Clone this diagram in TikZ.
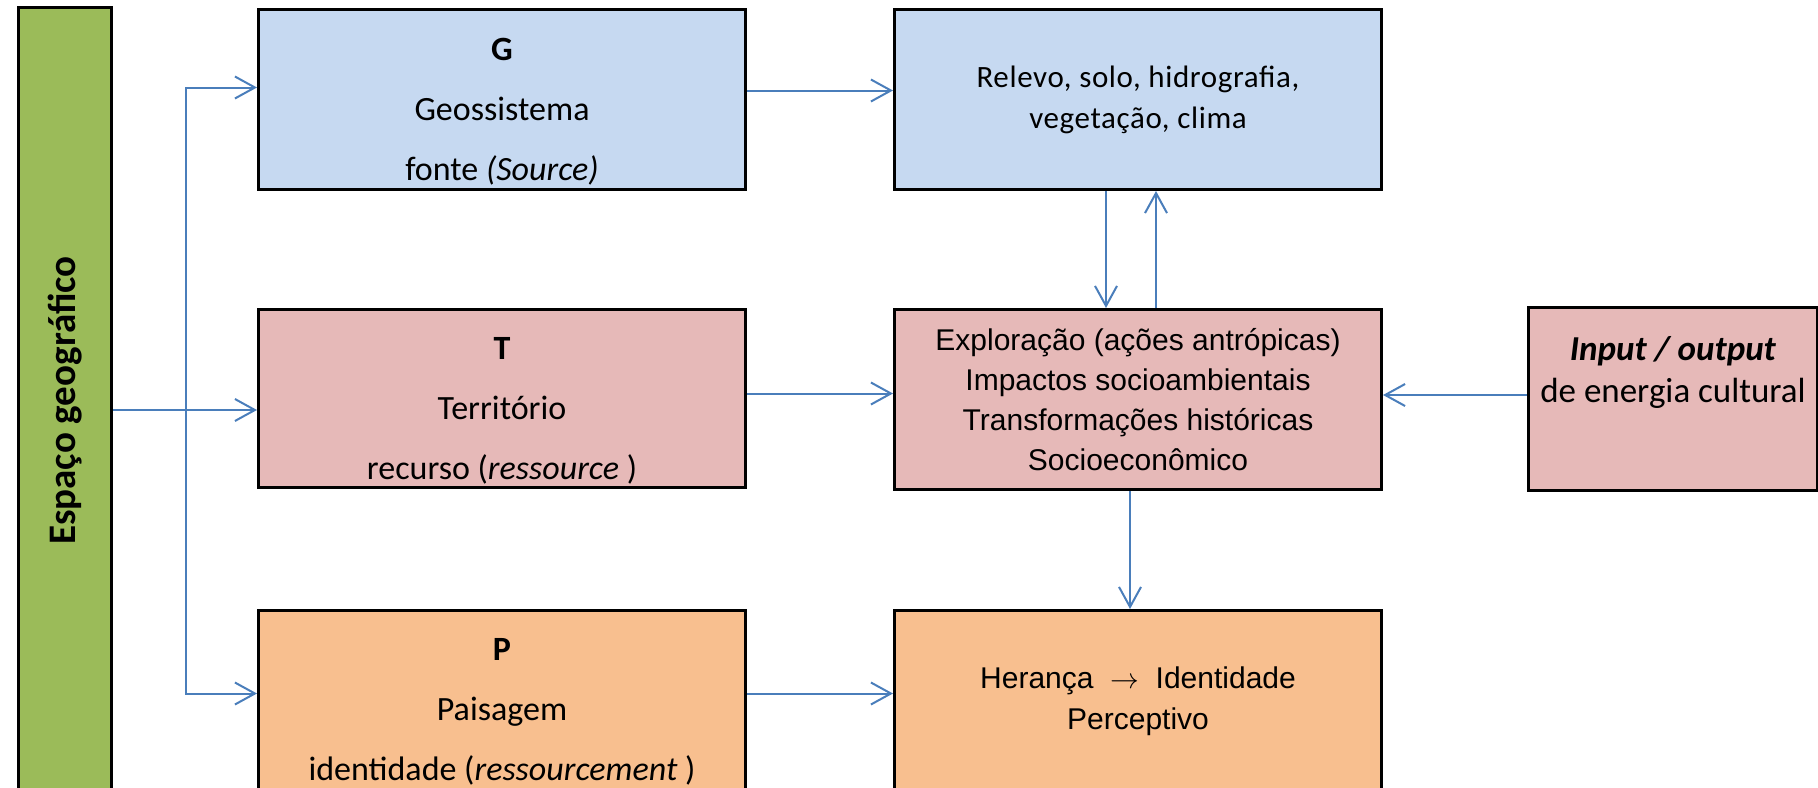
\documentclass[tikz,border=0pt]{standalone}
\usepackage{graphicx}
\usepackage{fontspec}
\setmainfont{Carlito}
\newfontfamily\arialfont{Liberation Sans}
\usetikzlibrary{calc,arrows.meta}
\definecolor{boxblue}{HTML}{C6D9F1}
\definecolor{boxred}{HTML}{E6B9B8}
\definecolor{boxorange}{HTML}{F8BF8F}
\definecolor{boxgreen}{HTML}{9BBB59}
\definecolor{flowcolor}{HTML}{4A7EBB}
\newcommand{\topgap}{\rule{0pt}{23pt}}% pushes the text down a bit
\tikzstyle{mybox} = [
    draw=black,
    line width=1.5pt,
    rectangle,
    inner sep=0pt,
    align=center,
    anchor=north west
    ]
\tikzstyle{widebox} = [mybox, minimum width=243.5pt]
\tikzstyle{gtpbox} = [widebox, font=\fontsize{17}{30}\selectfont]
\tikzstyle{flow} = [
    draw=flowcolor,
    line width=1pt,
    -{Straight Barb[length=10pt,width=11pt]}
    ]

\begin{document}
\begin{tikzpicture}[x=0.5pt,y=-0.5pt]
\useasboundingbox (0,0) rectangle (1818,787);
\clip (0,0) rectangle (1818,787);

% left bar
\node[mybox, fill=boxgreen, minimum width=46.5pt, minimum height=393pt] (geo) at (17,6)
    {\rotatebox{90}{\fontsize{19.5}{23}\selectfont\bfseries Espaço geográfico}};

% G, T, P
\node[gtpbox, fill=boxblue, minimum height=90pt] (G) at (257,8)
    {\topgap\textbf{G}\\Geossistema\\fonte \textit{(Source)}};
\node[gtpbox, fill=boxred, minimum height=89pt] (T) at (257,308)
    {\topgap\textbf{T}\\Território\\recurso (\textit{ressource} )};
\node[gtpbox, fill=boxorange, minimum height=101pt] (P) at (257,609)
    {\textbf{P}\\Paisagem\\identidade (\textit{ressourcement} )};

% middle column
\node[widebox, fill=boxblue, minimum height=90pt, font=\addfontfeature{LetterSpace=2}\fontsize{15.5}{20.5}\selectfont] (rel) at (893,8)
    {Relevo, solo, hidrografia,\\vegetação, clima};
\node[widebox, fill=boxred, minimum height=90pt, font=\arialfont\fontsize{15}{20}\selectfont] (expl) at (893,308)
    {Exploração (ações antrópicas)\\Impactos socioambientais\\Transformações históricas\\Socioeconômico};
\node[widebox, fill=boxorange, minimum height=90.5pt, font=\arialfont\fontsize{15}{20.5}\selectfont] (her) at (893,609)
    {Herança~ $\rightarrow$~ Identidade\\Perceptivo};

% right
\node[mybox, fill=boxred, minimum width=144.5pt, minimum height=91.5pt, text depth=30pt, font=\fontsize{17.5}{21}\selectfont] (io) at (1527,306)
    {\textbf{\textit{Input / output}}\\de energia cultural};

% connectors
\coordinate (fork) at (186,410);
\draw[flow] (geo.east |- fork) -- (T.west |- fork);
\draw[flow] (fork) |- ([yshift=6pt]G.west);
\draw[flow] (fork) |- ([yshift=9pt]P.west);
\draw[flow] ([yshift=4.5pt]G.east) -- ([yshift=4.5pt]G.east -| rel.west);
\draw[flow] ([yshift=2.5pt]T.east) -- ([yshift=2.5pt]T.east -| expl.west);
\draw[flow] ([yshift=9pt]P.east) -- ([yshift=9pt]P.east -| her.west);
\draw[flow] ([yshift=2pt]io.west) -- ([yshift=2pt]io.west -| expl.east);
\draw[flow] ([xshift=-16pt]rel.south) -- ([xshift=-16pt]rel.south |- expl.north);
\draw[flow] ([xshift=9pt]expl.north) -- ([xshift=9pt]expl.north |- rel.south);
\draw[flow] ([xshift=-4pt]expl.south) -- ([xshift=-4pt]expl.south |- her.north);
\end{tikzpicture}
\end{document}
